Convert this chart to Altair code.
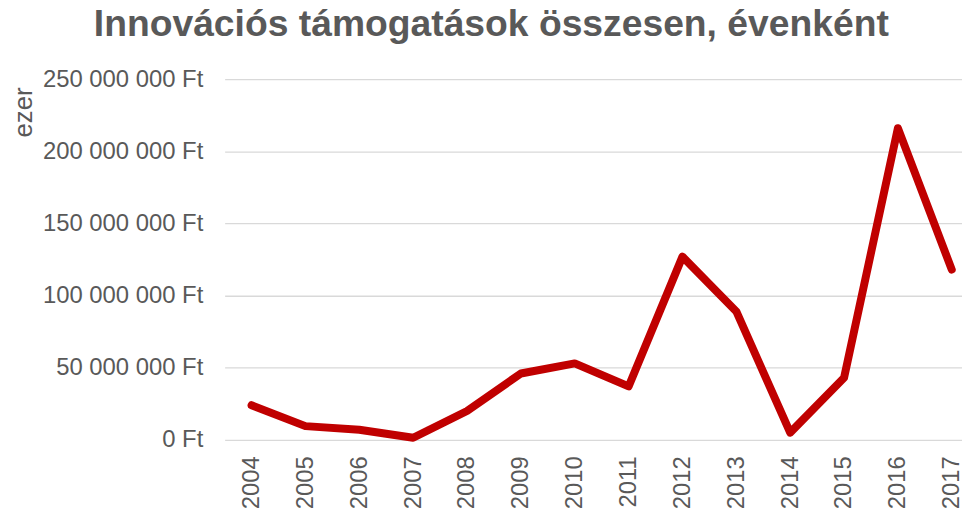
import altair as alt
import pandas as pd

years = [2004, 2005, 2006, 2007, 2008, 2009, 2010, 2011, 2012, 2013, 2014, 2015, 2016, 2017]
values = [24_000_000, 9_500_000, 7_000_000, 1_500_000, 20_000_000, 46_000_000, 53_000_000,
          37_000_000, 127_000_000, 89_000_000, 5_000_000, 43_000_000, 216_000_000, 118_000_000]
y_ticks = [0, 50_000_000, 100_000_000, 150_000_000, 200_000_000, 250_000_000]

df = pd.DataFrame({"year": years, "value": values})

gray = "#595959"

chart = alt.Chart(df).mark_line(
    color="#C00000", strokeWidth=8, strokeCap="round", strokeJoin="round"
).encode(
    x=alt.X("year:Q",
            scale=alt.Scale(domain=[2003.5, 2017.19], nice=False, zero=False),
            axis=alt.Axis(values=years, format="d", labelAngle=270, labelAlign="right",
                          labelBaseline="middle", labelPadding=16, labelFontSize=24,
                          labelColor=gray, labelFont="Liberation Sans", ticks=False,
                          domain=False, grid=False, title=None, labelOverlap=False)),
    y=alt.Y("value:Q",
            scale=alt.Scale(domain=[0, 250_000_000], nice=False),
            axis=alt.Axis(values=y_ticks,
                          labelExpr="replace(format(datum.value, ','), regexp(',', 'g'), ' ') + ' Ft'",
                          labelFontSize=24, labelColor=gray, labelFont="Liberation Sans",
                          labelPadding=22, ticks=False, domain=False,
                          grid=True, gridColor="#D9D9D9", gridWidth=1.3,
                          title="ezer", titleFontSize=26, titleFont="Liberation Sans",
                          titleFontWeight="normal", titleColor=gray, titleAngle=270,
                          titleX=-202, titleY=33, titleAlign="center",
                          titleBaseline="middle")),
).properties(
    width=742,
    height=363,
    title=alt.TitleParams(
        "Innovációs támogatások összesen, évenként",
        font="Liberation Sans", fontSize=37.5, fontWeight="bold", color=gray,
        anchor="middle", frame="bounds", baseline="alphabetic", offset=-6, dx=4,
    ),
    autosize=alt.AutoSizeParams(type="none"),
    padding={"left": 218, "top": 70, "right": 0, "bottom": 68},
).configure_view(stroke=None)

chart.save("out.html", embed_options={"renderer": "svg", "actions": False})
